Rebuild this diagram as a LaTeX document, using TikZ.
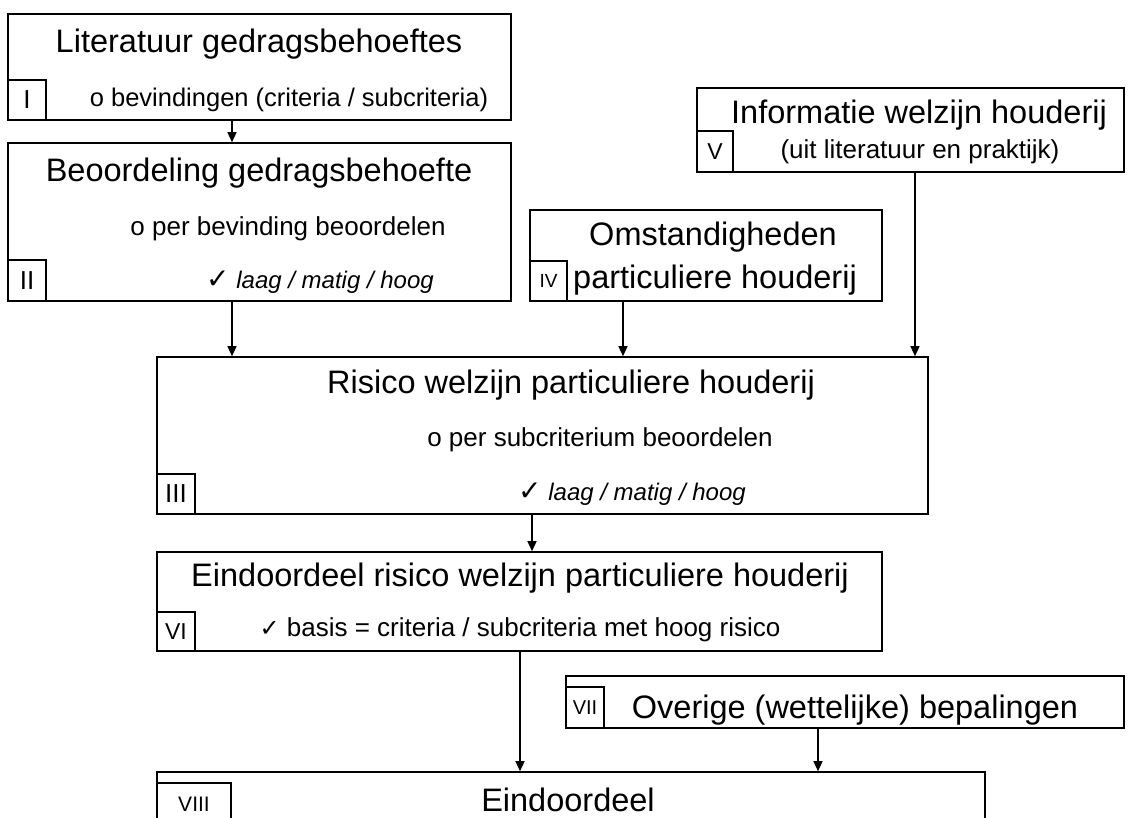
\documentclass[tikz,border=0pt]{standalone}
\usepackage{fontspec}
\setmainfont{Liberation Sans}
\newfontfamily\symf{DejaVu Sans}
\usetikzlibrary{arrows.meta}
\begin{document}
\begin{tikzpicture}[x=1pt,y=-1pt,
 box/.style={draw,line width=1.6pt,inner sep=0pt,rectangle},
 lbl/.style={draw,line width=1.4pt,inner sep=0pt,rectangle,font=\fontsize{26}{30}\selectfont},
 lbltxt/.style={inner sep=0pt,font=\fontsize{21}{24}\selectfont},
 ttl/.style={inner sep=0pt,font=\fontsize{32.5}{38}\selectfont},
 sub/.style={inner sep=0pt,font=\fontsize{26}{30}\selectfont},
 chk/.style={inner sep=0pt,font=\fontsize{24}{28}\selectfont},
 arr/.style={line width=1.4pt,-{Triangle[length=10pt,width=9pt]}}]
\useasboundingbox (0,0) rectangle (1131,818);
\clip (0,0) rectangle (1131,818);
\fill[white] (0,0) rectangle (1131,818);

% boxes
\node[box,minimum width=503,minimum height=106] (I) at (259.5,67) {};
\node[lbl,minimum width=38,minimum height=40] (LI) at (27,100) {I};
\node[ttl] (tI) at (259,44) {Literatuur gedragsbehoeftes};
\node[sub,font=\fontsize{25.5}{30}\selectfont] (sI) at (289,100) {o bevindingen (criteria / subcriteria)};

\node[box,minimum width=503,minimum height=158] (II) at (259.5,222) {};
\node[lbl,minimum width=38,minimum height=41] (LII) at (27,280.5) {II};
\node[ttl] (tII) at (259,173) {Beoordeling gedragsbehoefte};
\node[sub] (sII) at (288,229) {o per bevinding beoordelen};
\node[chk] (cII) at (320,282) {{\symf\fontsize{28}{30}\selectfont ✓}\ \textit{laag / matig / hoog}};

\node[box,minimum width=352,minimum height=91] (IV) at (706,255.5) {};
\node[lbl,minimum width=37,minimum height=40,font=\fontsize{19}{22}\selectfont] (LIV) at (548.5,281) {IV};
\node[ttl] (tIV) at (713,237) {Omstandigheden};
\node[ttl] (uIV) at (715,280) {particuliere houderij};

\node[box,minimum width=427,minimum height=84] (V) at (910.5,130) {};
\node[lbl,minimum width=36,minimum height=41,font=\fontsize{23}{26}\selectfont] (LV) at (715,151.5) {V};
\node[ttl] (tV) at (919,115) {Informatie welzijn houderij};
\node[sub] (sV) at (920,152) {(uit literatuur en praktijk)};

\node[box,minimum width=771,minimum height=157] (III) at (542.5,435.5) {};
\node[lbl,minimum width=38,minimum height=40] (LIII) at (176,494) {III};
\node[ttl] (tIII) at (571,385) {Risico welzijn particuliere houderij};
\node[sub] (sIII) at (600,440) {o per subcriterium beoordelen};
\node[chk] (cIII) at (632,494) {{\symf\fontsize{28}{30}\selectfont ✓}\ \textit{laag / matig / hoog}};

\node[box,minimum width=725,minimum height=99] (VI) at (519.5,601.5) {};
\node[lbl,minimum width=38,minimum height=39,font=\fontsize{23}{26}\selectfont] (LVI) at (176,631.5) {VI};
\node[ttl] (tVI) at (520,578) {Eindoordeel risico welzijn particuliere houderij};
\node[sub] (sVI) at (520,630) {{\symf\fontsize{24}{26}\selectfont ✓}\ basis = criteria / subcriteria met hoog risico};

\node[box,minimum width=558,minimum height=52] (VII) at (845,702) {};
\node[lbl,minimum width=38,minimum height=41,font=\fontsize{20}{22}\selectfont] (LVII) at (585,707.5) {VII};
\node[ttl] (tVII) at (855,710) {Overige (wettelijke) bepalingen};

\node[box,minimum width=828,minimum height=88] (VIII) at (571,816) {};
\node[lbl,minimum width=74,minimum height=77] (LVIII) at (194,821.5) {};
\node[lbltxt] (nVIII) at (194,804) {VIII};
\node[ttl] (tVIII) at (568,800) {Eindoordeel};

% connector x positions
\coordinate (xa) at (232,0);
\coordinate (xb) at (623,0);
\coordinate (xc) at (915,0);
\coordinate (xd) at (532,0);
\coordinate (xe) at (520,0);
\coordinate (xf) at (818,0);

\draw[arr] (I.south -| xa) -- (II.north -| xa);
\draw[arr] (II.south -| xa) -- (III.north -| xa);
\draw[arr] (IV.south -| xb) -- (III.north -| xb);
\draw[arr] (V.south -| xc) -- (III.north -| xc);
\draw[arr] (III.south -| xd) -- (VI.north -| xd);
\draw[arr] (VI.south -| xe) -- (VIII.north -| xe);
\draw[arr] (VII.south -| xf) -- (VIII.north -| xf);
\end{tikzpicture}
\end{document}
